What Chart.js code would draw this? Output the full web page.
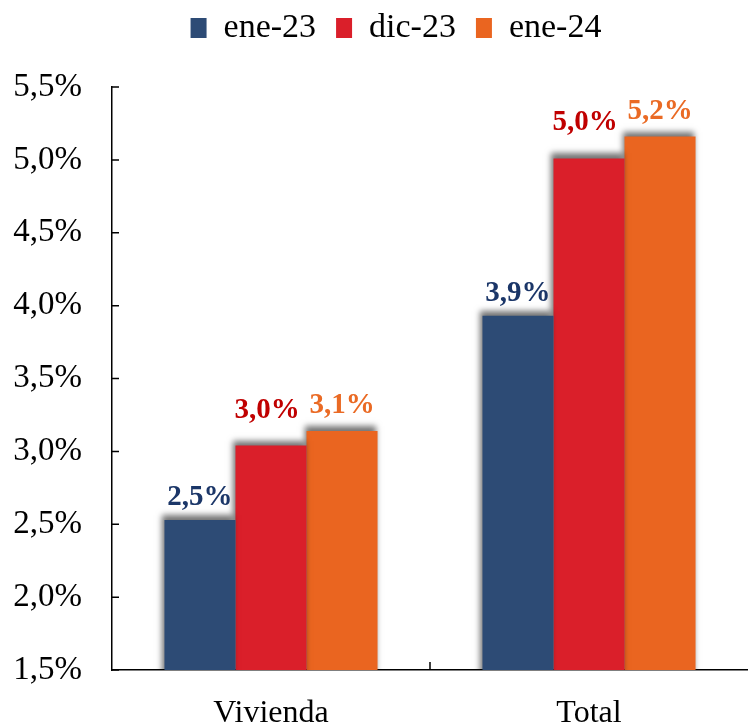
<!doctype html>
<html lang="es">
<head>
  <meta charset="utf-8">
  <title>Vivienda y Total</title>
  <style>
    * { margin: 0; padding: 0; }
    body { background: white; overflow: hidden; }
    .chartBox { width: 748px; height: 723px; position: relative; }
  </style>
</head>
<body>
<div class="chartBox">
  <canvas id="myChart"></canvas>
</div>

<script src="https://cdn.jsdelivr.net/npm/chart.js"></script>
<script>
  // data (percent)
  const categories = ['Vivienda', 'Total'];
  const seriesNames = ['ene-23', 'dic-23', 'ene-24'];
  const ene23 = [2.53, 3.93];
  const dic23 = [3.04, 5.01];
  const ene24 = [3.14, 5.16];
  const yTicks = [1.5, 2.0, 2.5, 3.0, 3.5, 4.0, 4.5, 5.0, 5.5];

  const barColors = ['#2D4B75', '#DA1F2A', '#EA6520'];
  const labelColors = ['#1B3668', '#C00000', '#EA6A24'];
  // label placement per series (gap above bar, sideways nudge)
  const labelGap = [15, 28, 18];
  const labelNudge = [0, -4, 0];
  const serif = "'Liberation Serif', 'DejaVu Serif', serif";

  const fmt = v => v.toFixed(1).replace('.', ',') + '%';

  // extra room under the legend, and legend nudged a bit to the right
  const legendTweak = {
    id: 'legendTweak',
    beforeInit(chart) {
      const lg = chart.legend;
      const origFit = lg.fit;
      lg.fit = function () {
        origFit.call(lg);
        this.height += 32;
      };
      const origDraw = lg.draw;
      lg.draw = function () {
        chart.ctx.save();
        chart.ctx.translate(16, 0);
        origDraw.call(lg);
        chart.ctx.restore();
      };
    }
  };

  // soft grey shadow round the top of each bar
  const barShadow = {
    id: 'barShadow',
    beforeDatasetsDraw(chart) {
      const ctx = chart.ctx;
      ctx.save();
      ctx.shadowColor = 'rgba(0,0,0,0.55)';
      ctx.shadowBlur = 6;
      ctx.shadowOffsetX = -2;
      ctx.shadowOffsetY = -5;
    },
    afterDatasetsDraw(chart) {
      chart.ctx.restore();
    }
  };

  // value labels above bars
  const valueLabels = {
    id: 'valueLabels',
    afterDatasetsDraw(chart) {
      const ctx = chart.ctx;
      ctx.save();
      ctx.font = "bold 29px " + serif;
      ctx.textAlign = 'center';
      ctx.textBaseline = 'alphabetic';
      chart.data.datasets.forEach((ds, i) => {
        const meta = chart.getDatasetMeta(i);
        ctx.fillStyle = labelColors[i];
        meta.data.forEach((bar, j) => {
          ctx.fillText(fmt(ds.data[j]), bar.x + labelNudge[i], bar.y - labelGap[i]);
        });
      });
      ctx.restore();
    }
  };

  // short tick marks pointing into the plot
  const innerTicks = {
    id: 'innerTicks',
    afterDraw(chart) {
      const ctx = chart.ctx;
      const x = chart.scales.x, y = chart.scales.y;
      ctx.save();
      ctx.strokeStyle = '#000';
      ctx.lineWidth = 1.5;
      ctx.beginPath();
      yTicks.forEach(v => {
        const py = y.getPixelForValue(v);
        ctx.moveTo(x.left, py);
        ctx.lineTo(x.left + 7, py);
      });
      const mid = (x.getPixelForValue(0) + x.getPixelForValue(1)) / 2;
      ctx.moveTo(mid, y.bottom);
      ctx.lineTo(mid, y.bottom - 8);
      ctx.stroke();
      ctx.restore();
    }
  };

  const data = {
    labels: categories,
    datasets: [
      { label: seriesNames[0], data: ene23, backgroundColor: barColors[0] },
      { label: seriesNames[1], data: dic23, backgroundColor: barColors[1] },
      { label: seriesNames[2], data: ene24, backgroundColor: barColors[2] }
    ]
  };

  const config = {
    type: 'bar',
    data,
    options: {
      responsive: true,
      maintainAspectRatio: false,
      animation: false,
      layout: { padding: { left: 12, right: 0, top: -9, bottom: 0 } },
      datasets: {
        bar: { categoryPercentage: 0.67, barPercentage: 1.0, borderWidth: 0 }
      },
      scales: {
        x: {
          afterFit: s => { s.height = 53; },
          grid: { drawOnChartArea: false, drawTicks: false },
          border: { display: true, color: '#000', width: 1.5 },
          ticks: {
            color: '#000',
            padding: 28,
            font: { family: serif, size: 32, lineHeight: 1.0 }
          }
        },
        y: {
          min: 1.5,
          max: 5.5,
          afterFit: s => { s.width = 100; },
          afterBuildTicks: axis => { axis.ticks = yTicks.map(v => ({ value: v })); },
          grid: { drawOnChartArea: false, drawTicks: false },
          border: { display: true, color: '#000', width: 1.5 },
          ticks: {
            color: '#000',
            padding: 30,
            font: { family: serif, size: 33 },
            callback: v => fmt(v)
          }
        }
      },
      plugins: {
        legend: {
          display: true,
          position: 'top',
          labels: {
            color: '#000',
            boxWidth: 16,
            boxHeight: 20,
            padding: 20,
            font: { family: serif, size: 34 }
          }
        },
        tooltip: { enabled: false }
      }
    },
    plugins: [legendTweak, barShadow, valueLabels, innerTicks]
  };

  const myChart = new Chart(document.getElementById('myChart'), config);
</script>
</body>
</html>
